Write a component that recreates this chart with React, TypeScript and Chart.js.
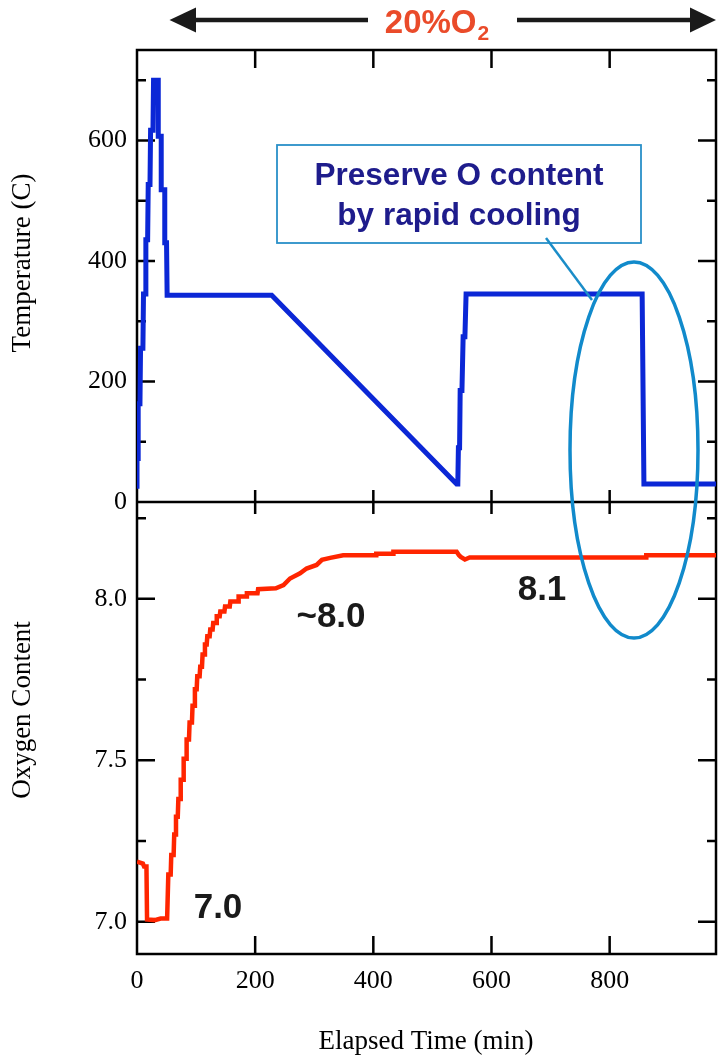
import React, { useEffect, useRef } from "react";
import { Chart, registerables } from "chart.js";

Chart.register(...registerables);

// ---- data ----
const tempTime = [0, 0, 2, 2, 5, 6, 10, 11, 14, 15, 18, 19, 22, 23, 27, 28, 36, 36, 41, 41, 47, 47, 50, 51, 228, 541, 543, 544, 546, 547, 550, 552, 555, 557, 855, 858, 980];
const tempValue = [22, 72, 72, 163, 163, 255, 255, 345, 345, 435, 435, 527, 527, 617, 617, 700, 700, 607, 607, 518, 518, 430, 430, 343, 343, 30, 30, 90, 90, 185, 185, 274, 274, 345, 345, 30, 30];

const oxyTime = [0, 10, 12, 16, 17, 30, 40, 51, 53, 57, 58, 62, 63, 65, 66, 69, 70, 73, 74, 78, 79, 83, 84, 88, 89, 93, 94, 97, 98, 101, 102, 106, 107, 110, 111, 114, 115, 118, 119, 123, 124, 128, 129, 134, 135, 140, 141, 148, 149, 157, 158, 171, 172, 185, 186, 204, 205, 235, 248, 259, 276, 287, 304, 313, 327, 349, 405, 405, 434, 434, 541, 545, 548, 555, 563, 862, 862, 980];
const oxyValue = [7.186, 7.18, 7.171, 7.171, 7.007, 7.005, 7.01, 7.01, 7.146, 7.146, 7.207, 7.207, 7.27, 7.27, 7.325, 7.325, 7.38, 7.38, 7.44, 7.44, 7.505, 7.505, 7.564, 7.564, 7.617, 7.617, 7.669, 7.669, 7.72, 7.72, 7.76, 7.76, 7.79, 7.79, 7.828, 7.828, 7.859, 7.859, 7.884, 7.884, 7.905, 7.905, 7.925, 7.925, 7.946, 7.946, 7.961, 7.961, 7.976, 7.976, 7.992, 7.992, 8.007, 8.007, 8.017, 8.017, 8.03, 8.033, 8.043, 8.063, 8.079, 8.094, 8.105, 8.121, 8.127, 8.135, 8.135, 8.14, 8.14, 8.146, 8.146, 8.135, 8.13, 8.122, 8.128, 8.128, 8.135, 8.135];

const xTicks = [0, 200, 400, 600, 800];
const tempTicks = [0, 200, 400, 600];
const tempMinor = [100, 300, 500, 700];
const oxyTicks = [7.0, 7.5, 8.0];
const oxyMinor = [7.25, 7.75, 8.25];

const annotationLabels = ["7.0", "~8.0", "8.1"];
const calloutLines = ["Preserve O content", "by rapid cooling"];

const W = 719;
const H = 1057;
const SERIF = '"Liberation Serif", "Times New Roman", Times, serif';
const SANS = '"Liberation Sans", Arial, Helvetica, sans-serif';

const framePlugin = {
  id: "frame",
  beforeDatasetsDraw(chart: any) {
    const { ctx, chartArea, scales } = chart;
    const x = scales.x;
    const yT = scales.yT;
    const yO = scales.yO;
    const L = chartArea.left;
    const R = chartArea.right;
    const T = yT.top;
    const M = yT.bottom;
    const B = yO.bottom;
    ctx.save();
    ctx.strokeStyle = "#000";
    ctx.lineWidth = 2.5;
    ctx.lineCap = "butt";
    ctx.strokeRect(L, T, R - L, B - T);
    ctx.beginPath();
    ctx.moveTo(L, M);
    ctx.lineTo(R, M);
    ctx.stroke();
    const major = 18;
    const minor = 9;
    ctx.beginPath();
    xTicks.forEach((v) => {
      const px = x.getPixelForValue(v);
      if (px <= L + 1) return;
      ctx.moveTo(px, T);
      ctx.lineTo(px, T + major);
      ctx.moveTo(px, M - 12);
      ctx.lineTo(px, M + 12);
      ctx.moveTo(px, B);
      ctx.lineTo(px, B - major);
    });
    const yTick = (scale: any, vals: number[], len: number) => {
      vals.forEach((v) => {
        const py = scale.getPixelForValue(v);
        ctx.moveTo(L, py);
        ctx.lineTo(L + len, py);
        ctx.moveTo(R, py);
        ctx.lineTo(R - len, py);
      });
    };
    yTick(yT, tempTicks.filter((v) => v > 0), major);
    yTick(yT, tempMinor, minor);
    yTick(yO, oxyTicks, major);
    yTick(yO, oxyMinor, minor);
    ctx.stroke();
    ctx.restore();
  },
};

const annotPlugin = {
  id: "annot",
  afterDraw(chart: any) {
    const { ctx } = chart;
    ctx.save();
    // Header arrow
    const ay = 20;
    ctx.fillStyle = "#1a1a1a";
    ctx.strokeStyle = "#1a1a1a";
    ctx.lineWidth = 4.5;
    ctx.beginPath();
    ctx.moveTo(194, ay);
    ctx.lineTo(368, ay);
    ctx.moveTo(517, ay);
    ctx.lineTo(692, ay);
    ctx.stroke();
    ctx.beginPath();
    ctx.moveTo(169.5, ay);
    ctx.lineTo(196, ay - 12.5);
    ctx.lineTo(196, ay + 12.5);
    ctx.closePath();
    ctx.fill();
    ctx.beginPath();
    ctx.moveTo(716, ay);
    ctx.lineTo(690, ay - 12.5);
    ctx.lineTo(690, ay + 12.5);
    ctx.closePath();
    ctx.fill();

    // Header text 20%O2
    ctx.fillStyle = "#ea4b2a";
    ctx.textBaseline = "alphabetic";
    ctx.textAlign = "left";
    ctx.font = `bold 33px ${SANS}`;
    const main = "20%O";
    const mw = ctx.measureText(main).width;
    ctx.font = `bold 21px ${SANS}`;
    const sw = ctx.measureText("2").width;
    const startX = 437 - (mw + sw + 1) / 2;
    ctx.font = `bold 33px ${SANS}`;
    ctx.fillText(main, startX, 33);
    ctx.font = `bold 21px ${SANS}`;
    ctx.fillText("2", startX + mw + 1, 40);

    // Callout box
    ctx.strokeStyle = "#2a90c8";
    ctx.lineWidth = 1.8;
    ctx.strokeRect(277, 145, 364, 98);
    ctx.fillStyle = "#1e1c8c";
    ctx.textAlign = "center";
    ctx.font = `bold 31.5px ${SANS}`;
    ctx.fillText(calloutLines[0], 459, 185);
    ctx.fillText(calloutLines[1], 459, 225);

    // Leader line
    ctx.strokeStyle = "#1b8dc8";
    ctx.lineWidth = 2.5;
    ctx.beginPath();
    ctx.moveTo(546, 238);
    ctx.lineTo(592, 300);
    ctx.stroke();

    // Ellipse
    ctx.strokeStyle = "#118acb";
    ctx.lineWidth = 3.5;
    ctx.beginPath();
    ctx.ellipse(634, 450, 64, 188, 0, 0, Math.PI * 2);
    ctx.stroke();

    // Value labels
    ctx.fillStyle = "#1a1a1a";
    ctx.font = `bold 35px ${SANS}`;
    ctx.textAlign = "center";
    ctx.fillText(annotationLabels[0], 218, 918);
    ctx.fillText(annotationLabels[1], 331, 627);
    ctx.fillText(annotationLabels[2], 542, 600);

    // Axis titles
    ctx.fillStyle = "#000";
    ctx.font = `27px ${SERIF}`;
    ctx.textBaseline = "middle";
    ctx.fillText("Elapsed Time (min)", 426, 1042);
    ctx.save();
    ctx.translate(23, 263);
    ctx.rotate(-Math.PI / 2);
    ctx.fillText("Temperature (C)", 0, 0);
    ctx.restore();
    ctx.save();
    ctx.translate(23, 710);
    ctx.rotate(-Math.PI / 2);
    ctx.fillText("Oxygen Content", 0, 0);
    ctx.restore();
    ctx.restore();
  },
};

export default function App() {
  const ref = useRef<HTMLCanvasElement | null>(null);
  useEffect(() => {
    if (!ref.current) return;
    const tickFont = { family: SERIF, size: 26 };
    const chart = new Chart(ref.current, {
      type: "line",
      data: {
        datasets: [
          {
            label: "Temperature",
            data: tempTime.map((t, i) => ({ x: t, y: tempValue[i] })),
            yAxisID: "yT",
            borderColor: "#0b27d6",
            borderWidth: 5,
            pointRadius: 0,
            tension: 0,
            fill: false,
          },
          {
            label: "Oxygen Content",
            data: oxyTime.map((t, i) => ({ x: t, y: oxyValue[i] })),
            yAxisID: "yO",
            borderColor: "#ff2500",
            borderWidth: 4.5,
            pointRadius: 0,
            tension: 0,
            fill: false,
          },
        ],
      },
      options: {
        animation: false,
        responsive: false,
        maintainAspectRatio: false,
        devicePixelRatio: 1,
        layout: { padding: { top: 50, right: 3, left: 0, bottom: 0 } },
        plugins: { legend: { display: false }, tooltip: { enabled: false } },
        scales: {
          x: {
            type: "linear",
            position: "bottom",
            min: 0,
            max: 980,
            grid: { display: false, drawTicks: false },
            border: { display: false },
            ticks: { font: tickFont, color: "#000", padding: 12, maxRotation: 0 },
            afterBuildTicks: (s: any) => {
              s.ticks = xTicks.map((v) => ({ value: v }));
            },
            afterFit: (s: any) => {
              s.height = 103;
            },
          },
          yO: {
            type: "linear",
            position: "left",
            stack: "panels",
            stackWeight: 1,
            min: 6.9,
            max: 8.3,
            grid: { display: false, drawTicks: false },
            border: { display: false },
            ticks: {
              font: tickFont,
              color: "#000",
              padding: 10,
              callback: (v: any) => Number(v).toFixed(1),
            },
            afterBuildTicks: (s: any) => {
              s.ticks = oxyTicks.map((v) => ({ value: v }));
            },
            afterFit: (s: any) => {
              s.width = 137;
            },
          },
          yT: {
            type: "linear",
            position: "left",
            stack: "panels",
            stackWeight: 1,
            min: 0,
            max: 750,
            grid: { display: false, drawTicks: false },
            border: { display: false },
            ticks: {
              font: tickFont,
              color: "#000",
              padding: 10,
              callback: (v: any) => String(v),
            },
            afterBuildTicks: (s: any) => {
              s.ticks = tempTicks.map((v) => ({ value: v }));
            },
            afterFit: (s: any) => {
              s.width = 137;
            },
          },
        },
      } as any,
      plugins: [framePlugin, annotPlugin],
    });
    return () => chart.destroy();
  }, []);
  return (
    <div style={{ position: "absolute", left: 0, top: 0, width: W, height: H, background: "#fff" }}>
      <canvas ref={ref} width={W} height={H} style={{ display: "block", width: W, height: H }} />
    </div>
  );
}
